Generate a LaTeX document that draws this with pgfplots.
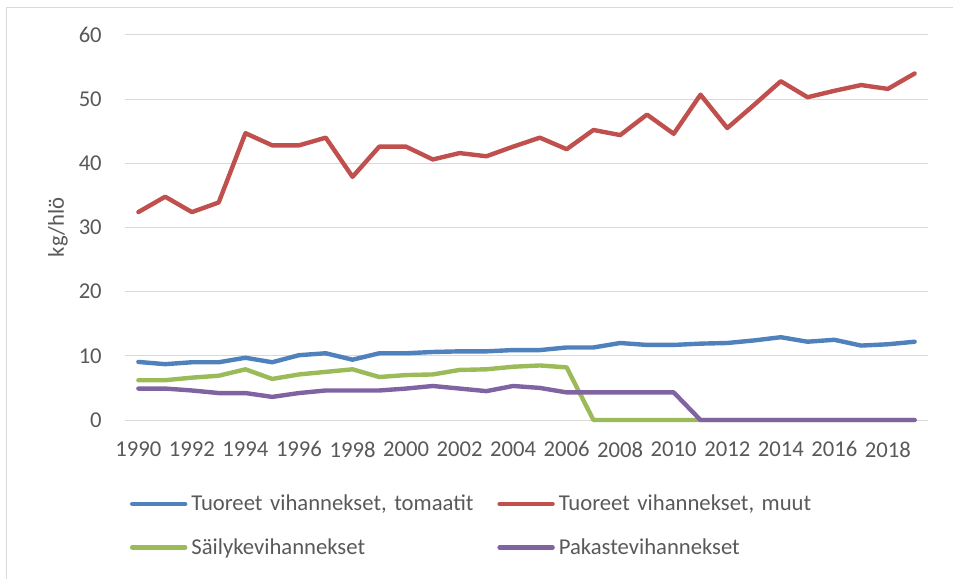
\documentclass[border=0pt]{standalone}
\usepackage{pgfplots}
\pgfplotsset{compat=1.18}
\usepackage{pgfplotstable}
\usepackage{fontspec}
\setmainfont{Carlito}
\definecolor{cblue}{HTML}{4F81BD}
\definecolor{cred}{HTML}{C0504D}
\definecolor{cgreen}{HTML}{9BBB59}
\definecolor{cpurple}{HTML}{8064A2}
\definecolor{txt}{HTML}{595959}
\definecolor{gridc}{HTML}{D9D9D9}
\pgfplotstableread{
year tom muut sail pak
1990 9.05 32.4 6.2 4.9
1991 8.7 34.8 6.2 4.9
1992 9.0 32.4 6.6 4.6
1993 9.0 33.9 6.9 4.2
1994 9.7 44.7 7.9 4.2
1995 9.0 42.8 6.4 3.6
1996 10.1 42.8 7.1 4.2
1997 10.4 44.0 7.5 4.6
1998 9.4 37.9 7.9 4.6
1999 10.4 42.6 6.7 4.6
2000 10.4 42.6 7.0 4.9
2001 10.6 40.6 7.1 5.3
2002 10.7 41.6 7.8 4.9
2003 10.7 41.1 7.9 4.5
2004 10.9 42.6 8.3 5.3
2005 10.9 44.0 8.5 5.0
2006 11.3 42.2 8.2 4.3
2007 11.3 45.2 0 4.3
2008 12.0 44.4 0 4.3
2009 11.7 47.6 0 4.3
2010 11.7 44.6 0 4.3
2011 11.9 50.7 0 0
2012 12.0 45.5 0 0
2013 12.4 49.1 0 0
2014 12.9 52.8 0 0
2015 12.2 50.3 0 0
2016 12.5 51.3 0 0
2017 11.6 52.2 0 0
2018 11.8 51.6 0 0
2019 12.2 54.0 0 0
}\datatable
\begin{document}
\begin{tikzpicture}
\useasboundingbox (0,0) rectangle (714.75pt,434.25pt);
\draw[gridc, line width=0.75pt] (4.5pt,0) -- (4.5pt,428.25pt) -- (714.75pt,428.25pt);
\begin{axis}[
  at={(93.75pt,119.25pt)}, anchor=south west,
  scale only axis, width=602.25pt, height=288.75pt,
  xmin=1989.5, xmax=2019.5, ymin=0, ymax=60,
  xtick={1990,1992,...,2018}, ytick={0,10,...,60},
  major tick length=0pt,
  axis line style={draw=none},
  xmajorgrids=false, ymajorgrids=true,
  y grid style={gridc, line width=0.75pt},
  /pgf/number format/assume math mode=true,
  /pgf/number format/1000 sep={},
  tick label style={font=\fontsize{17}{20}\selectfont, text=txt, inner sep=0pt},
  yticklabel shift=17.25pt,
  xticklabel shift=16pt,
  ylabel={kg/hlö},
  ylabel style={at={(axis description cs:-0.0834,0.5)}, anchor=center, font=\fontsize{17}{20}\selectfont, text=txt},
  clip=false,
  legend columns=2,
  legend cell align=left,
  legend image code/.code={\draw[#1] (0pt,0pt) -- (39.75pt,0pt);},
  legend style={at={(axis description cs:0.00623,-0.195)}, anchor=north west,
    draw=none, fill=none, inner sep=0pt, outer sep=0pt,
    font=\fontsize{17}{20}\selectfont, text=txt,
    nodes={inner sep=0pt},
    column sep=3pt, row sep=19.25pt,
    /tikz/every even column/.append style={text width=226.5pt}},
  every axis plot/.append style={line width=3.3pt, line join=round, line cap=round},
]
\addplot[cblue] table[x=year, y=tom] {\datatable};
\addlegendentry{Tuoreet vihannekset, tomaatit}
\addplot[cred] table[x=year, y=muut] {\datatable};
\addlegendentry{Tuoreet vihannekset, muut}
\addplot[cgreen] table[x=year, y=sail] {\datatable};
\addlegendentry{Säilykevihannekset}
\addplot[cpurple] table[x=year, y=pak] {\datatable};
\addlegendentry{Pakastevihannekset}
\end{axis}
\end{tikzpicture}
\end{document}
